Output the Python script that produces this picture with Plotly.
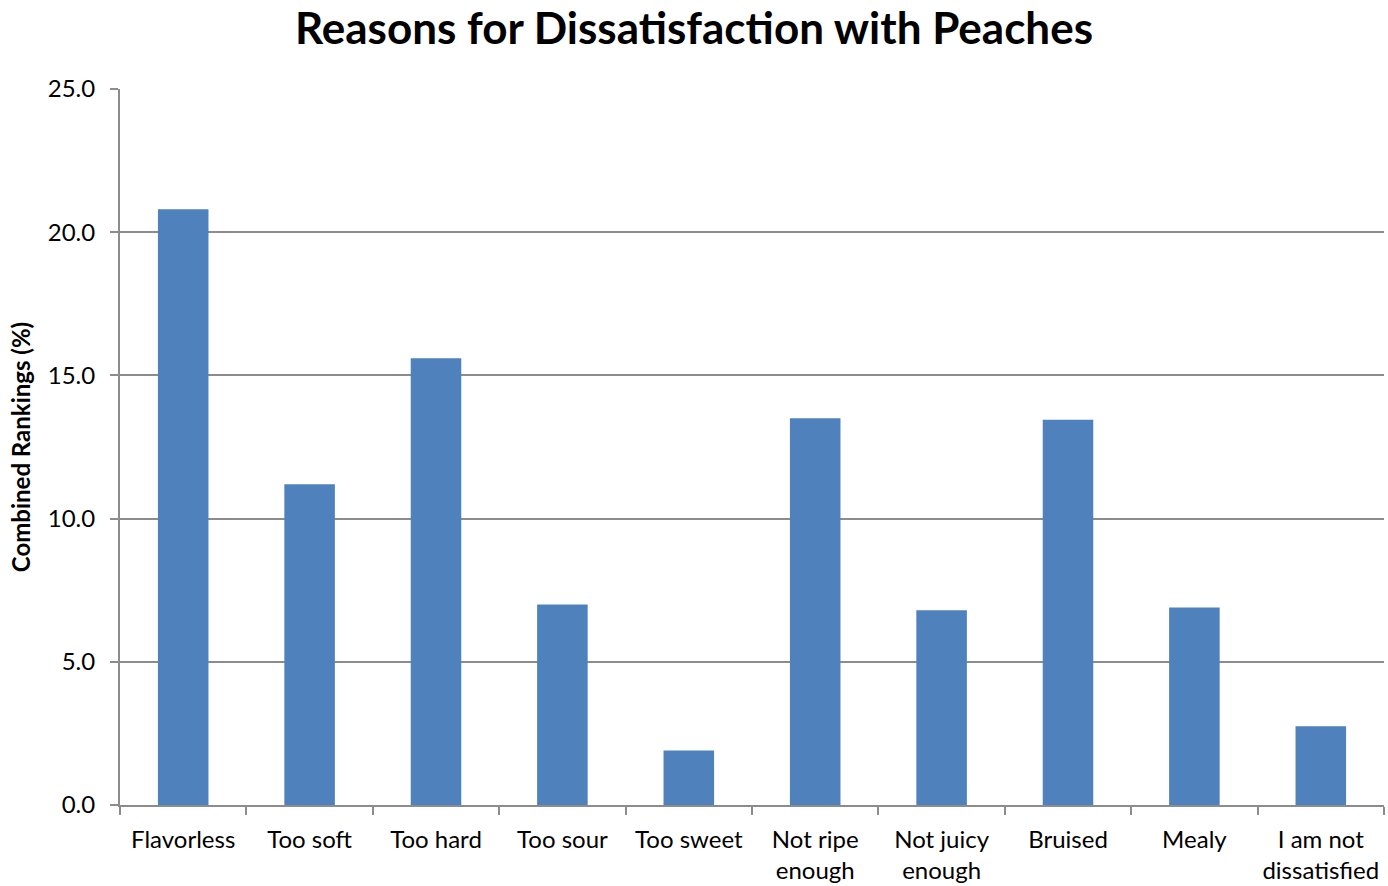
import plotly.graph_objects as go

categories = ["Flavorless", "Too soft", "Too hard", "Too sour", "Too sweet",
              "Not ripe<br>enough", "Not juicy<br>enough", "Bruised", "Mealy",
              "I am not<br>dissatisfied"]
rankings = [20.8, 11.2, 15.6, 7.0, 1.9, 13.5, 6.8, 13.45, 6.9, 2.75]
y_ticks = [0, 5, 10, 15, 20, 25]
y_tick_labels = ["0.0", "5.0", "10.0", "15.0", "20.0", "25.0"]

FONT = "Lato, 'Open Sans', sans-serif"
GRAY = "#8c8c8c"

fig = go.Figure(go.Bar(
    x=categories,
    y=rankings,
    marker=dict(color="#4F81BD", line=dict(width=0)),
))

fig.update_layout(
    width=1388,
    height=886,
    paper_bgcolor="white",
    plot_bgcolor="white",
    margin=dict(l=120, r=4, t=89, b=81),
    bargap=0.6,
    showlegend=False,
    font=dict(family=FONT, color="black", size=24),
    title=dict(
        text="<b>Reasons for Dissatisfaction with Peaches</b>",
        x=0.5, xanchor="center",
        y=0.968, yanchor="middle",
        font=dict(size=44, family=FONT, color="black"),
    ),
)

fig.update_xaxes(
    showgrid=False,
    showline=True, linecolor=GRAY, linewidth=2,
    ticks="outside", tickson="boundaries", ticklen=8, tickwidth=2, tickcolor=GRAY,
    tickfont=dict(size=24, family=FONT, color="black"),
    tickangle=0,
    automargin=False,
    ticklabelstandoff=12,
)

fig.update_yaxes(
    range=[0, 25],
    tickvals=y_ticks, ticktext=y_tick_labels,
    showgrid=True, gridcolor=GRAY, gridwidth=2,
    showline=True, linecolor=GRAY, linewidth=2,
    ticks="outside", ticklen=8, tickwidth=2, tickcolor=GRAY,
    tickfont=dict(size=24, family=FONT, color="black"),
    ticklabelstandoff=10,
    zeroline=False,
    automargin=False,
    title=dict(text="<b>Combined Rankings (%)</b>", font=dict(size=24, family=FONT, color="black"),
               standoff=10),
)

fig.write_html("out.html")
